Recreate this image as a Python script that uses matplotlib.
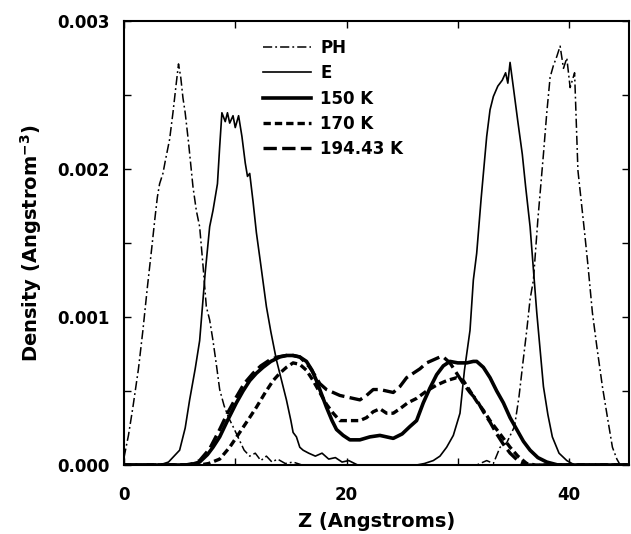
import matplotlib
matplotlib.use("Agg")
import matplotlib.pyplot as plt
from matplotlib.ticker import MultipleLocator, FixedLocator

# ---------------- data ----------------
ph_x = [0.0, 0.4, 0.8, 1.3, 1.7, 2.1, 2.5, 2.8, 3.0, 3.2, 3.5, 3.7, 4.1, 4.4, 4.7, 4.9,
        5.1, 5.3, 5.5, 5.8, 6.2, 6.5, 6.8, 7.1, 7.4, 7.7, 8.0, 8.3, 8.6, 9.0, 9.4, 9.8,
        10.3, 10.8, 11.3, 11.8, 12.3, 12.8, 13.3, 13.8, 14.5, 15.2, 16.0, 31.7, 32.6,
        33.2, 33.8, 34.4, 35.1, 35.5, 35.9, 36.2, 36.5, 36.8, 37.2, 37.7, 38.0, 38.3,
        38.6, 38.9, 39.2, 39.5, 39.8, 40.1, 40.5, 40.8, 41.1, 41.4, 41.7, 42.1, 42.5,
        43.0, 43.5, 43.9, 44.3, 44.6, 45.4]
ph_y = [0.00005, 0.0002, 0.00039, 0.00065, 0.00091, 0.0012, 0.00147, 0.00168, 0.00181,
        0.0019, 0.00197, 0.00205, 0.0022, 0.00238, 0.00258, 0.00271, 0.00262, 0.00248,
        0.00238, 0.00218, 0.00188, 0.00172, 0.00161, 0.00135, 0.00107, 0.00098, 0.00084,
        0.00068, 0.00051, 0.0004, 0.00032, 0.00026, 0.00018, 0.0001, 0.00006, 0.00008,
        0.00003, 0.00006, 0.00002, 0.00004, 0.00001, 0.00002, 0.0, 0.0, 0.00003,
        0.00001, 0.00012, 0.00015, 0.00026, 0.00046, 0.00072, 0.00091, 0.00112, 0.00125,
        0.00166, 0.0021, 0.00238, 0.00262, 0.0027, 0.00276, 0.00283, 0.00268, 0.00275,
        0.00255, 0.00265, 0.00199, 0.00178, 0.00157, 0.00135, 0.00103, 0.0008, 0.00053,
        0.0003, 0.00012, 0.00004, 0.0, 0.0]

e_x = [0.0, 3.2, 4.0, 5.0, 5.5, 5.9, 6.4, 6.8, 7.3, 7.7, 8.0, 8.4, 8.6, 8.8, 9.1, 9.3,
       9.5, 9.8, 10.0, 10.3, 10.6, 10.9, 11.1, 11.3, 11.6, 11.9, 12.3, 12.8, 13.2, 13.7,
       14.2, 14.6, 15.0, 15.2, 15.5, 15.8, 16.1, 16.6, 17.2, 17.8, 18.4, 19.0, 19.6,
       20.2, 21.0, 26.3, 27.0, 27.8, 28.4, 29.0, 29.6, 30.2, 30.6, 31.1, 31.4, 31.7,
       32.1, 32.6, 32.9, 33.2, 33.6, 34.0, 34.3, 34.5, 34.7, 35.0, 35.4, 35.8, 36.1,
       36.5, 36.8, 37.1, 37.4, 37.7, 38.1, 38.5, 39.1, 39.8, 40.5, 45.4]
e_y = [0.0, 0.0, 0.00002, 0.0001, 0.00025, 0.00044, 0.00065, 0.00084, 0.0013, 0.00161,
       0.00172, 0.0019, 0.00215, 0.00238, 0.00232, 0.00238, 0.00231, 0.00236, 0.00228,
       0.00236, 0.00222, 0.00204, 0.00195, 0.00197, 0.00178, 0.00157, 0.00135, 0.00107,
       0.0009, 0.00071, 0.00056, 0.00044, 0.0003, 0.00022, 0.00019, 0.00012, 0.0001,
       0.00008, 0.00006, 0.00008, 0.00004, 0.00005, 0.00002, 0.00003, 0.0, 0.0, 0.00001,
       0.00003, 0.00006, 0.00012, 0.0002, 0.00035, 0.00064, 0.00091, 0.00125, 0.00143,
       0.0018, 0.00222, 0.0024, 0.00249, 0.00256, 0.0026, 0.00265, 0.00258, 0.00272,
       0.00255, 0.00232, 0.0021, 0.00188, 0.00161, 0.00132, 0.00103, 0.00078, 0.00053,
       0.00034, 0.00019, 0.00008, 0.00003, 0.0, 0.0]

k150_x = [0.0, 5.9, 6.8, 7.5, 8.0, 8.6, 9.3, 10.1, 10.7, 11.3, 11.9, 12.5, 13.2, 14.0,
          14.6, 15.2, 15.8, 16.4, 16.9, 17.3, 17.8, 18.2, 18.7, 19.1, 19.7, 20.3, 21.2,
          22.1, 23.0, 24.2, 25.0, 25.7, 26.3, 26.9, 27.5, 28.1, 28.7, 29.3, 30.0, 30.8,
          31.4, 31.7, 32.3, 32.9, 33.5, 34.1, 34.7, 35.3, 35.9, 36.5, 37.2, 38.0, 39.0, 45.4]
k150_y = [0.0, 0.0, 0.00002, 0.00007, 0.00012, 0.00019, 0.0003, 0.00042, 0.0005, 0.00057,
          0.00062, 0.00066, 0.0007, 0.00073, 0.00074, 0.00074, 0.00073, 0.0007, 0.00064,
          0.00057, 0.00047, 0.00039, 0.0003, 0.00024, 0.0002, 0.00017, 0.00017, 0.00019,
          0.0002, 0.00018, 0.00021, 0.00026, 0.0003, 0.00042, 0.00052, 0.00061, 0.00067,
          0.0007, 0.00069, 0.00069, 0.0007, 0.0007, 0.00066, 0.00059, 0.0005, 0.00042,
          0.00032, 0.00024, 0.00016, 0.0001, 0.00005, 0.00002, 0.0, 0.0]

k170_x = [0.0, 6.8, 7.6, 8.6, 9.5, 10.4, 11.2, 11.9, 12.7, 13.4, 14.0, 14.6, 15.2, 15.8,
          16.4, 17.0, 17.6, 18.2, 18.8, 19.4, 20.3, 21.2, 21.8, 22.4, 23.0, 23.6, 24.2,
          24.8, 25.5, 26.3, 27.2, 28.1, 29.0, 29.9, 30.5, 31.1, 31.7, 32.3, 32.9, 33.5,
          34.1, 34.7, 35.4, 36.2, 37.0, 45.4]
k170_y = [0.0, 0.0, 0.00001, 0.00004, 0.00012, 0.00022, 0.00031, 0.00039, 0.00049, 0.00057,
          0.00062, 0.00066, 0.00069, 0.00068, 0.00064, 0.00057, 0.00049, 0.00041, 0.00035,
          0.0003, 0.0003, 0.0003, 0.00032, 0.00036, 0.00038, 0.00035, 0.00035, 0.00038,
          0.00042, 0.00045, 0.0005, 0.00054, 0.00057, 0.00059, 0.00057, 0.0005, 0.00043,
          0.00037, 0.0003, 0.00024, 0.00018, 0.00012, 0.00006, 0.00001, 0.0, 0.0]

k194_x = [0.0, 5.5, 6.2, 6.8, 7.7, 8.6, 9.3, 10.1, 10.8, 11.6, 12.3, 13.1, 13.8, 14.6,
          15.2, 15.8, 16.2, 16.7, 17.2, 17.6, 18.2, 18.8, 19.4, 20.0, 20.6, 21.2, 21.8,
          22.4, 23.0, 23.6, 24.2, 24.8, 25.4, 26.0, 26.6, 27.2, 27.8, 28.4, 28.7, 29.3,
          29.9, 30.5, 31.1, 31.7, 32.3, 32.9, 33.5, 34.1, 34.7, 35.4, 36.2, 45.4]
k194_y = [0.0, 0.0, 0.00001, 0.00003, 0.00011, 0.00024, 0.00035, 0.00046, 0.00055, 0.00062,
          0.00067, 0.00071, 0.00073, 0.00074, 0.00074, 0.00073, 0.0007, 0.00066, 0.0006,
          0.00055, 0.00051, 0.00049, 0.00047, 0.00046, 0.00045, 0.00044, 0.00047, 0.00051,
          0.00051, 0.0005, 0.00049, 0.00053, 0.00059, 0.00062, 0.00065, 0.00069, 0.00071,
          0.00073, 0.00073, 0.00069, 0.00062, 0.00055, 0.00049, 0.00044, 0.00036, 0.00029,
          0.00021, 0.00014, 0.00008, 0.00003, 0.0, 0.0]

x_ticks = [0, 20, 40]
x_tick_labels = ["0", "20", "40"]
y_ticks = [0.0, 0.001, 0.002, 0.003]
y_tick_labels = ["0.000", "0.001", "0.002", "0.003"]

# ---------------- figure ----------------
plt.rcParams['font.family'] = ['DejaVu Sans']
plt.rcParams['font.weight'] = 'bold'
plt.rcParams['mathtext.default'] = 'bf'

fig = plt.figure(figsize=(6.31, 5.34), dpi=100)
ax = fig.add_axes([0.1965, 0.1292, 0.8005, 0.8315])

ax.plot(ph_x, ph_y, color='black', lw=1.1, dashes=(6, 2, 1.2, 2), label='PH')
ax.plot(e_x, e_y, color='black', lw=1.2, label='E')
ax.plot(k150_x, k150_y, color='black', lw=2.6, label='150 K')
ax.plot(k170_x, k170_y, color='black', lw=2.4, dashes=(2.2, 1.2), label='170 K')
ax.plot(k194_x, k194_y, color='black', lw=2.4, dashes=(4, 1.6), label='194.43 K')

ax.set_xlim(0, 45.4)
ax.set_ylim(0, 0.003)

ax.xaxis.set_major_locator(FixedLocator(x_ticks))
ax.set_xticklabels(x_tick_labels)
ax.xaxis.set_minor_locator(MultipleLocator(10))
ax.yaxis.set_major_locator(FixedLocator(y_ticks))
ax.set_yticklabels(y_tick_labels)
ax.yaxis.set_minor_locator(MultipleLocator(0.0005))

ax.tick_params(which='both', direction='in', top=True, right=True, width=1.0,
               labelsize=12)
ax.tick_params(which='major', length=5)
ax.tick_params(which='minor', length=5)
ax.tick_params(axis='x', pad=15)
ax.tick_params(axis='y', pad=10)
for s in ax.spines.values():
    s.set_linewidth(1.5)

ax.set_xlabel('Z (Angstroms)', fontsize=14, fontweight='bold', labelpad=6)
ax.set_ylabel('Density (Angstrom$^{-3}$)', fontsize=14, fontweight='bold',
              labelpad=10)

leg = ax.legend(loc='upper left', bbox_to_anchor=(263 / 631, 1 - 39 / 534),
                bbox_transform=fig.transFigure, frameon=False, fontsize=12,
                handlelength=2.9, handletextpad=0.55, labelspacing=0.44,
                borderpad=0, borderaxespad=0)
for t in leg.get_texts():
    t.set_fontweight('bold')

fig.savefig('out.png', dpi=100)
